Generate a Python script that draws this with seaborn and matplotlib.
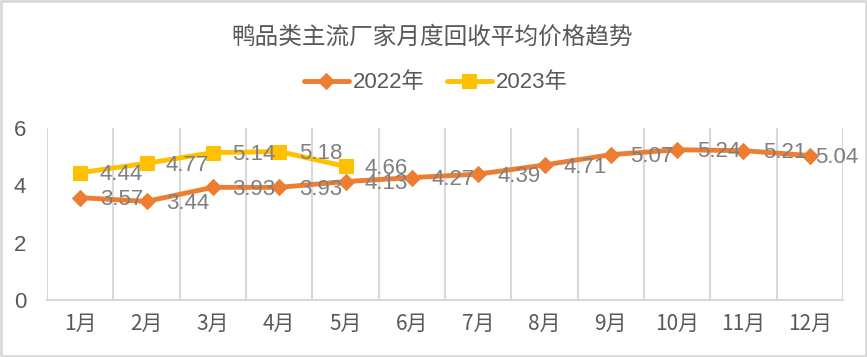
import matplotlib
matplotlib.use("Agg")
import matplotlib.pyplot as plt
import seaborn as sns
import pandas as pd
import numpy as np
from matplotlib.ticker import FixedLocator
from matplotlib.patches import Rectangle

months = ["1月", "2月", "3月", "4月", "5月", "6月", "7月", "8月", "9月", "10月", "11月", "12月"]
values_2022 = [3.57, 3.44, 3.93, 3.93, 4.13, 4.27, 4.39, 4.71, 5.07, 5.24, 5.21, 5.04]
values_2023 = [4.44, 4.77, 5.14, 5.18, 4.66]
series_names = ["2022年", "2023年"]
yticks = [0, 2, 4, 6]

sns.set_theme(style="white")
plt.rcParams["font.family"] = ["Liberation Sans", "Noto Sans CJK SC", "DejaVu Sans"]

ORANGE = "#ED7D31"
YELLOW = "#FFC000"
TXT = "#595959"
LBL = "#7F7F7F"
GRID = "#D9D9D9"

df22 = pd.DataFrame({"x": np.arange(len(values_2022)), "v": values_2022})
df23 = pd.DataFrame({"x": np.arange(len(values_2023)), "v": values_2023})

fig = plt.figure(figsize=(8.67, 3.57), dpi=100)
ax = fig.add_axes([47/867, 1-300/357, (843-47)/867, (300-128)/357])

sns.lineplot(data=df22, x="x", y="v", ax=ax, color=ORANGE, lw=3.5, marker="D",
             markersize=8.5, markeredgecolor=ORANGE, label=series_names[0], zorder=4)
sns.lineplot(data=df23, x="x", y="v", ax=ax, color=YELLOW, lw=3.5, marker="s",
             markersize=10, markeredgecolor=YELLOW, label=series_names[1], zorder=4)

n = len(months)
ax.set_xlim(-0.5, n - 0.5)
ax.set_ylim(0, 6)
ax.set_xticks(np.arange(n))
ax.set_xticklabels(months, family=["Noto Sans CJK SC", "DejaVu Sans"], fontsize=15, color=TXT)
ax.set_yticks(yticks)
ax.set_yticklabels([str(t) for t in yticks], fontsize=16, color=TXT)
ax.xaxis.set_minor_locator(FixedLocator(np.arange(-0.5, n, 1.0)))
ax.grid(which="minor", axis="x", color=GRID, lw=1.5)
ax.grid(which="major", visible=False)
ax.tick_params(axis="x", which="both", length=0, pad=9)
ax.tick_params(axis="y", length=0, pad=15)
ax.set_xlabel("")
ax.set_ylabel("")
for s in ["top", "right", "left"]:
    ax.spines[s].set_visible(False)
ax.spines["bottom"].set_color(GRID)
ax.spines["bottom"].set_linewidth(1.5)

# data labels
for i, v in enumerate(values_2022):
    dx = 14 if i < n - 1 else 4
    ax.annotate(f"{v:.2f}", (i, v), xytext=(dx, -1.5), textcoords="offset points",
                ha="left", va="center", fontsize=16, color=LBL, zorder=5)
for i, v in enumerate(values_2023):
    ax.annotate(f"{v:.2f}", (i, v), xytext=(14, -1.5), textcoords="offset points",
                ha="left", va="center", fontsize=16, color=LBL, zorder=5)

leg = ax.legend(loc="center", bbox_to_anchor=(436/867, 1-83/357), bbox_transform=fig.transFigure,
                ncol=2, frameon=False, fontsize=16, handlelength=2.0, handletextpad=0.2,
                columnspacing=1.0)
for t in leg.get_texts():
    t.set_color(TXT)

fig.text(432/867, 1-37/357, "鸭品类主流厂家月度回收平均价格趋势", ha="center", va="center",
         fontsize=17, color=TXT, family=["Noto Sans CJK SC", "DejaVu Sans"])

fig.patches.append(Rectangle((0.0015, 0.003), 0.997, 0.994, transform=fig.transFigure,
                             fill=False, edgecolor=GRID, lw=2))

fig.savefig("out.png", dpi=100)
